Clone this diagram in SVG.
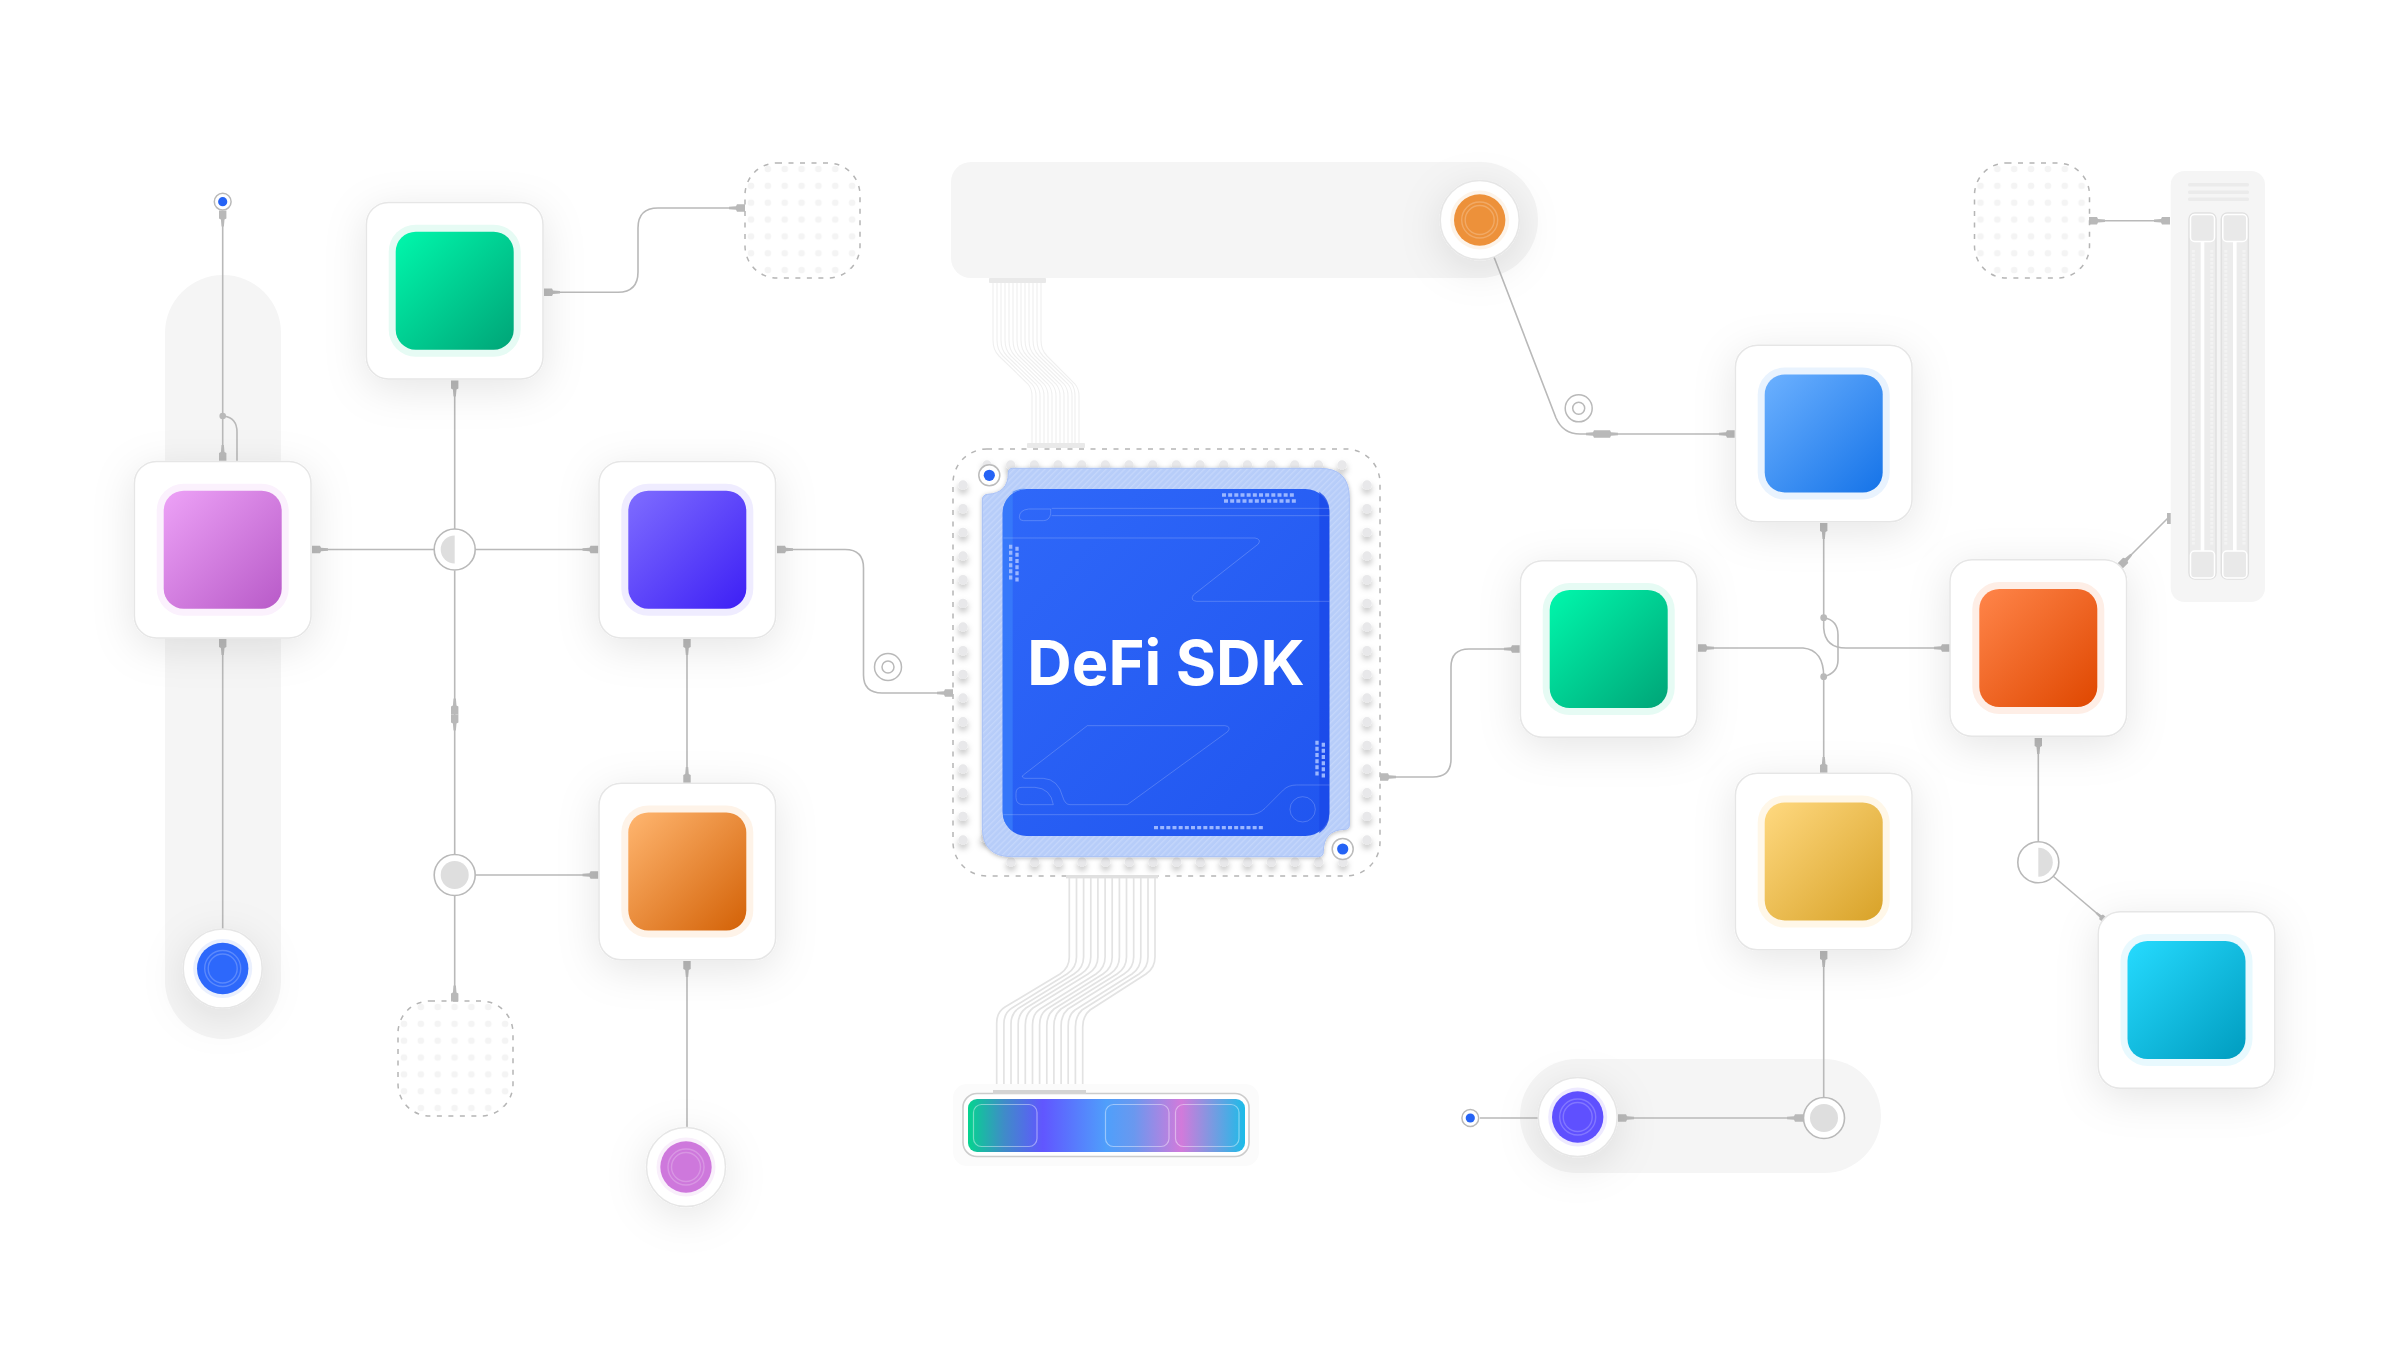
<svg xmlns="http://www.w3.org/2000/svg" width="2400" height="1350" viewBox="0 0 2400 1350">
<style>
.bg{fill:#fff}
.pill{fill:#f5f5f5}
.card{fill:#fff;stroke:#e6e6e6;stroke-width:1.5;filter:url(#sh)}
.halo{rx:27px}
.face{rx:20px}
.w{fill:none;stroke:#b9b9b9;stroke-width:1.6}
.plug{fill:#b9b9b9}
.disc{fill:#fff;stroke:#e6e6e6;stroke-width:1.5;filter:url(#sh)}
.ring{fill:none;stroke:#fff;stroke-opacity:.22;stroke-width:1.4}
.joint{fill:#fff;stroke:#b9b9b9;stroke-width:1.6}
.fillg{fill:#dedede}
.dash{fill:none;stroke:#b5b5b5;stroke-width:1.5;stroke-dasharray:5 6.5}
.cir{fill:none;stroke:#fff;stroke-opacity:.2;stroke-width:3}
.tick{fill:none;stroke:#9ab6ff;stroke-width:10;stroke-dasharray:12 6.5}
.rib{fill:none;stroke:#e3e3e3;stroke-width:1.7}
.ribt{fill:none;stroke:#efefef;stroke-width:1.1}
.tab{fill:#e9e9e9}
.rail{fill:#ececec;stroke:#e0e0e0;stroke-width:1.5}
.slide{fill:#e9e9e9;stroke:#fff;stroke-width:1.5}
.title{font-family:Inter,"Liberation Sans",sans-serif;font-weight:700;font-size:61.5px;fill:#fff}
</style>
<defs>
<filter id="sh" x="-50%" y="-50%" width="200%" height="210%"><feDropShadow dx="0" dy="9" stdDeviation="21" flood-color="#000" flood-opacity=".1"/></filter>
<filter id="pinsh" x="-10%" y="-10%" width="120%" height="120%"><feDropShadow dx="0" dy="4" stdDeviation="3.2" flood-color="#000" flood-opacity=".26"/></filter>
<filter id="chipsh" x="-10%" y="-10%" width="120%" height="120%"><feDropShadow dx="0" dy="3" stdDeviation="6" flood-color="#000" flood-opacity=".28"/></filter>
<linearGradient id="gGreen" x1="0" y1="0" x2="1" y2="1"><stop offset="0" stop-color="#00f8ac"/><stop offset="1" stop-color="#00a477"/></linearGradient>
<linearGradient id="gPink" x1="0" y1="0" x2="1" y2="1"><stop offset="0" stop-color="#eda2f7"/><stop offset="1" stop-color="#b85ac8"/></linearGradient>
<linearGradient id="gViolet" x1="0" y1="0" x2="1" y2="1"><stop offset="0" stop-color="#7f6dff"/><stop offset="1" stop-color="#3d1ff5"/></linearGradient>
<linearGradient id="gOrange" x1="0" y1="0" x2="1" y2="1"><stop offset="0" stop-color="#ffb670"/><stop offset="1" stop-color="#d36106"/></linearGradient>
<linearGradient id="gBlue" x1="0" y1="0" x2="1" y2="1"><stop offset="0" stop-color="#6cb1ff"/><stop offset="1" stop-color="#1573e8"/></linearGradient>
<linearGradient id="gRed" x1="0" y1="0" x2="1" y2="1"><stop offset="0" stop-color="#ff854a"/><stop offset="1" stop-color="#df4700"/></linearGradient>
<linearGradient id="gYellow" x1="0" y1="0" x2="1" y2="1"><stop offset="0" stop-color="#ffd980"/><stop offset="1" stop-color="#d8a228"/></linearGradient>
<linearGradient id="gCyan" x1="0" y1="0" x2="1" y2="1"><stop offset="0" stop-color="#26dbff"/><stop offset="1" stop-color="#009cbf"/></linearGradient>
<linearGradient id="gChip" x1="0" y1="0" x2="1" y2="1"><stop offset="0" stop-color="#2f68f9"/><stop offset="1" stop-color="#2055ef"/></linearGradient>
<linearGradient id="gBar" x1="0" y1="0" x2="1" y2="0"><stop offset="0" stop-color="#05d48f"/><stop offset=".13" stop-color="#3f8cc8"/><stop offset=".27" stop-color="#6156ff"/><stop offset=".5" stop-color="#4f9ffb"/><stop offset=".6" stop-color="#6a98ef"/><stop offset=".77" stop-color="#d27adb"/><stop offset="1" stop-color="#1cbce8"/></linearGradient>
<pattern id="hatch" width="13" height="13" patternUnits="userSpaceOnUse" patternTransform="rotate(45)"><rect width="13" height="13" fill="#b7cdf9"/><rect width="4" height="13" fill="#c4d6fb"/></pattern>
<pattern id="dots" x="-10.85" y="-10.85" width="16.85" height="16.85" patternUnits="userSpaceOnUse"><circle cx="16.85" cy="16.85" r="3.3" fill="#f4f4f4"/><circle cx="0" cy="16.85" r="3.3" fill="#f4f4f4"/><circle cx="16.85" cy="0" r="3.3" fill="#f4f4f4"/><circle cx="0" cy="0" r="3.3" fill="#f4f4f4"/></pattern>
<polygon id="plug" class="plug" points="0,-3.7 8,-3.7 9,-1.8 16,-1.2 16,1.2 9,1.8 8,3.7 0,3.7"/>
<g id="dotbox"><rect width="115" height="115" rx="32" fill="url(#dots)"/><rect width="115" height="115" rx="32" class="dash"/></g>
</defs>
<rect class="bg" width="2400" height="1350"/>

<g id="backgrounds">
<rect class="pill" x="165" y="275" width="116" height="764" rx="58"/>
<path class="pill" d="M971 162H1480A58 58 0 0 1 1480 278H971A20 20 0 0 1 951 258V182A20 20 0 0 1 971 162Z"/>
<rect class="pill" x="1520" y="1059" width="361" height="114" rx="57"/>
</g>

<g id="ribbons">
<g class="ribt">
<path d="M993 283V340Q993 350 999 356L1028 384Q1032 389 1032 396V445"/>
<path d="M997 283V340Q997 350 1003 356L1032 384Q1036 389 1036 396V445"/>
<path d="M1001 283V340Q1001 350 1007 356L1036 384Q1040 389 1040 396V445"/>
<path d="M1005 283V340Q1005 350 1011 356L1040 384Q1044 389 1044 396V445"/>
<path d="M1009 283V340Q1009 350 1015 356L1044 384Q1048 389 1048 396V445"/>
<path d="M1013 283V340Q1013 350 1019 356L1048 384Q1052 389 1052 396V445"/>
<path d="M1017 283V340Q1017 350 1023 356L1052 384Q1056 389 1056 396V445"/>
<path d="M1021 283V340Q1021 350 1027 356L1056 384Q1060 389 1060 396V445"/>
<path d="M1025 283V340Q1025 350 1031 356L1060 384Q1064 389 1064 396V445"/>
<path d="M1029 283V340Q1029 350 1035 356L1064 384Q1068 389 1068 396V445"/>
<path d="M1033 283V340Q1033 350 1039 356L1068 384Q1072 389 1072 396V445"/>
<path d="M1037 283V340Q1037 350 1043 356L1072 384Q1075 389 1075 396V445"/>
<path d="M1041 283V340Q1041 350 1047 356L1075 384Q1079 389 1079 396V445"/>
</g>
<rect class="tab" x="989" y="278" width="57" height="5" rx="1"/>
</g>

<g id="chip">
<rect x="953" y="449" width="427" height="427" rx="34" class="bg"/>
<g filter="url(#pinsh)" fill="none" stroke="#e8e8ea" stroke-width="9.4" stroke-linecap="round" stroke-dasharray="0 23.67">
<path d="M963 485V850"/>
<path d="M1367 485V850"/>
<path d="M987 465H1345"/>
<path d="M1011 862H1325"/>
<path d="M985 838H986M1343 862H1344"/>
</g>
<rect x="953" y="449" width="427" height="427" rx="34" class="dash"/>
<g transform="translate(930 430) scale(.33333)">
<path fill="url(#hatch)" stroke="#a9c1f6" stroke-width="3" filter="url(#chipsh)" d="M248 115H1170Q1258 115 1258 203V1185Q1258 1198 1245 1198Q1180 1200 1180 1265Q1180 1280 1165 1280H245Q157 1280 157 1192V210Q157 195 172 193Q235 190 235 128Q235 115 248 115Z"/>
<rect x="218" y="177" width="980" height="1041" rx="72" fill="url(#gChip)"/>
<path d="M290 177A72 72 0 0 0 218 249V1146A72 72 0 0 0 248 1204V185A72 72 0 0 1 290 177Z" fill="#3a80fb" opacity=".7"/>
<path d="M1168 185V1210A72 72 0 0 0 1198 1146V249A72 72 0 0 0 1168 185Z" fill="#1a48e8" opacity=".8"/>
<g class="cir">
<path d="M365 235H1198M365 257H1198"/>
<path d="M362 237H296Q268 240 268 262Q268 272 280 272H340Q358 272 362 252Z"/>
<path d="M220 324H975Q995 328 985 342L790 495Q780 512 800 514H1198"/>
<path d="M280 1035L472 887H885Q905 890 893 905L592 1124H420Q405 1124 398 1100Q385 1048 340 1045H285Q272 1042 280 1035Z"/>
<path d="M258 1090Q258 1072 276 1072H315Q362 1075 370 1124H280Q258 1124 258 1102Z"/>
<path d="M220 1154H960Q985 1154 1005 1135L1060 1080Q1075 1065 1100 1065H1198"/>
<circle cx="1118" cy="1138" r="38"/>
</g>
<path class="tick" d="M876 195H1094M882 213H1100M672 1193H1000"/>
<path class="tick" d="M242 344V452M261 350V458M1161 932V1040M1180 938V1046"/>
</g>
<text class="title" x="1166" y="685" text-anchor="middle">DeFi SDK</text>
<g id="chip-hole-tl"><circle cx="989.3" cy="475.3" r="10.5" fill="#fff" stroke="#bbb" stroke-width="1.5"/><circle cx="989.3" cy="475.3" r="5.6" fill="#2563f5"/></g>
<g id="chip-hole-br"><circle cx="1342.7" cy="849" r="10.5" fill="#fff" stroke="#bbb" stroke-width="1.5"/><circle cx="1342.7" cy="849" r="5.6" fill="#2563f5"/></g>
</g>
<rect class="tab" x="1027" y="443" width="58" height="5" rx="1"/>

<g id="bottom-ribbon">
<rect x="1066" y="875" width="92" height="3.4" fill="#e0e0e0"/>
<g class="rib">
<path d="M1069.3 878V957Q1069.3 968 1060 974L1005 1007Q996.7 1012 996.7 1023V1090"/>
<path d="M1076.5 878V957Q1076.5 968 1067 974L1012 1008Q1003.9 1013 1003.9 1024V1090"/>
<path d="M1083.6 878V957Q1083.6 968 1074 974L1019 1008Q1011 1013 1011 1024V1090"/>
<path d="M1090.8 878V957Q1090.8 968 1081 974L1026 1008Q1018.2 1014 1018.2 1024V1090"/>
<path d="M1097.9 878V957Q1097.9 968 1088 974L1033 1008Q1025.3 1014 1025.3 1025V1090"/>
<path d="M1105.1 878V957Q1105.1 968 1096 974L1040 1009Q1032.5 1014 1032.5 1025V1090"/>
<path d="M1112.2 878V957Q1112.2 968 1103 974L1047 1009Q1039.6 1014 1039.6 1025V1090"/>
<path d="M1119.4 878V957Q1119.4 968 1110 974L1054 1009Q1046.8 1015 1046.8 1026V1090"/>
<path d="M1126.5 878V957Q1126.5 968 1117 974L1061 1009Q1053.9 1015 1053.9 1026V1090"/>
<path d="M1133.7 878V957Q1133.7 968 1124 974L1068 1009Q1061.1 1015 1061.1 1026V1090"/>
<path d="M1140.8 878V957Q1140.8 968 1132 974L1075 1010Q1068.2 1015 1068.2 1026V1090"/>
<path d="M1148 878V957Q1148 968 1139 974L1082 1010Q1075.4 1016 1075.4 1027V1090"/>
<path d="M1155 878V957Q1155 968 1146 974L1090 1010Q1082.7 1016 1082.7 1027V1090"/>
</g>
<rect x="953" y="1084" width="306" height="82" rx="14" fill="#fbfbfb"/>
<rect x="963" y="1093.5" width="286" height="63" rx="14" fill="#fff" stroke="#ccc" stroke-width="1.6"/>
<rect x="993" y="1090" width="93" height="4" fill="#d4d4d4"/>
<rect x="968" y="1099" width="277" height="53" rx="9" fill="url(#gBar)"/>
<g fill="none" stroke="#fff" stroke-opacity=".42" stroke-width="1.2">
<rect x="973.5" y="1104.5" width="63.5" height="42" rx="8"/>
<rect x="1105.5" y="1104.5" width="63.5" height="42" rx="8"/>
<rect x="1175.5" y="1104.5" width="63.5" height="42" rx="8"/>
</g>
</g>

<g id="connectors">
<path class="w" d="M222.7 226V461"/>
<path class="w" d="M222.7 416H224Q237 418 237 432V461"/>
<circle cx="222.7" cy="416" r="3.3" class="plug"/>
<path class="w" d="M222.7 650V930"/>
<path class="w" d="M322 549.5H434M475.5 549.5H585"/>
<path class="w" d="M454.7 390V529M454.7 570.5V854M454.7 895.5V990"/>
<path class="w" d="M475.5 875H588"/>
<path class="w" d="M555 292.3H618Q638 292 638 272V228Q638 208 658 208H735"/>
<path class="w" d="M787 549.5H845Q863.5 549.5 863.5 568V675Q863.5 693 882 693H942"/>
<path class="w" d="M687 650V775M687 970V1129"/>
<path class="w" d="M1390 777H1433Q1451 777 1451 759V667Q1451 649 1469 649H1510"/>
<path class="w" d="M1708 648H1803Q1823.7 650 1823.7 676.7"/>
<path class="w" d="M1823.7 533V628Q1825 648 1846 648H1940"/>
<path class="w" d="M1823.7 617.7Q1838 620 1838 635V660Q1838 673 1823.7 676.7"/>
<circle cx="1823.7" cy="617.7" r="3.4" class="plug"/>
<circle cx="1823.7" cy="676.7" r="3.4" class="plug"/>
<path class="w" d="M1823.7 676.7V765M1823.7 961V1097"/>
<path class="w" d="M2038.3 748V841.5"/>
<path class="w" d="M2053 876L2100 916"/>
<path class="w" d="M1494 257L1556 418Q1563 434 1580 434H1725"/>
<path class="w" d="M2099 220.7H2160"/>
<path class="w" d="M2125 561L2168 518"/>
<path class="w" d="M1480 1118H1538M1628 1118H1795"/>
<circle cx="888" cy="667" r="13.5" fill="none" stroke="#b9b9b9" stroke-width="1.5"/><circle cx="888" cy="667" r="6" fill="none" stroke="#b9b9b9" stroke-width="1.5"/>
<circle cx="1578.7" cy="408.3" r="13.5" fill="none" stroke="#b9b9b9" stroke-width="1.5"/><circle cx="1578.7" cy="408.3" r="6" fill="none" stroke="#b9b9b9" stroke-width="1.5"/>
<use href="#plug" transform="translate(222.7 210.5) rotate(90)"/>
<use href="#plug" transform="translate(222.7 461) rotate(-90)"/>
<use href="#plug" transform="translate(222.7 639) rotate(90)"/>
<use href="#plug" transform="translate(312 549.5)"/>
<use href="#plug" transform="translate(598.5 549.5) rotate(180)"/>
<use href="#plug" transform="translate(454.7 380.5) rotate(90)"/>
<use href="#plug" transform="translate(544 292.3)"/>
<use href="#plug" transform="translate(745 208) rotate(180)"/>
<use href="#plug" transform="translate(454.7 1001.5) rotate(-90)"/>
<use href="#plug" transform="translate(598.5 875) rotate(180)"/>
<use href="#plug" transform="translate(777 549.5)"/>
<use href="#plug" transform="translate(687 639) rotate(90)"/>
<use href="#plug" transform="translate(687 783) rotate(-90)"/>
<use href="#plug" transform="translate(687 961) rotate(90)"/>
<use href="#plug" transform="translate(953 693) rotate(180)"/>
<use href="#plug" transform="translate(1380 777)"/>
<use href="#plug" transform="translate(1520 649) rotate(180)"/>
<use href="#plug" transform="translate(1698 648)"/>
<use href="#plug" transform="translate(1950 648) rotate(180)"/>
<use href="#plug" transform="translate(1823.7 523) rotate(90)"/>
<use href="#plug" transform="translate(1823.7 773) rotate(-90)"/>
<use href="#plug" transform="translate(1823.7 951) rotate(90)"/>
<use href="#plug" transform="translate(2038.3 738) rotate(90)"/>
<use href="#plug" transform="translate(1735 434) rotate(180)"/>
<use href="#plug" transform="translate(1602 434)"/>
<use href="#plug" transform="translate(1602 434) rotate(180)"/>
<use href="#plug" transform="translate(454.7 714.5) rotate(90)"/>
<use href="#plug" transform="translate(454.7 714.5) rotate(-90)"/>
<use href="#plug" transform="translate(2089 220.7)"/>
<use href="#plug" transform="translate(2170 220.7) rotate(180)"/>
<use href="#plug" transform="translate(1618 1118)"/>
<use href="#plug" transform="translate(1803 1118) rotate(180)"/>
<use href="#plug" transform="translate(2120 566) rotate(-45)"/>
<use href="#plug" transform="translate(2106 921) rotate(-140) scale(.8)"/>
<rect class="plug" x="2167" y="513" width="4" height="11"/>
</g>

<g id="placeholder-1" transform="translate(398 1001)"><use href="#dotbox"/></g>
<g id="placeholder-2" transform="translate(745 163)"><use href="#dotbox"/></g>
<g id="placeholder-3" transform="translate(1974.5 163)"><use href="#dotbox"/></g>

<g id="memory-rail">
<rect class="pill" x="2170.7" y="171" width="94.3" height="431" rx="14"/>
<g fill="#ebebeb"><rect x="2188" y="183" width="61" height="3.5" rx="1.5"/><rect x="2188" y="190.5" width="61" height="3.5" rx="1.5"/><rect x="2188" y="197.5" width="61" height="3.5" rx="1.5"/></g>
<rect class="rail" x="2189" y="213" width="27" height="366" rx="6"/>
<rect class="rail" x="2221.3" y="213" width="27" height="366" rx="6"/>
<rect x="2200.7" y="241" width="3.6" height="310" fill="#fff"/>
<rect x="2233" y="241" width="3.6" height="310" fill="#fff"/>
<path d="M2193.4 250V545M2211.8 250V545M2225.8 250V545M2244 250V545" fill="none" stroke="#f3f3f3" stroke-width="3" stroke-dasharray="2.5 1.5"/>
<rect class="slide" x="2190.5" y="214.5" width="24" height="27" rx="4"/><rect class="slide" x="2222.8" y="214.5" width="24" height="27" rx="4"/>
<rect class="slide" x="2190.5" y="551" width="24" height="27" rx="4"/><rect class="slide" x="2222.8" y="551" width="24" height="27" rx="4"/>
</g>

<g id="node-green-top" transform="translate(454.7 290.7)"><rect class="card" x="-88.3" y="-88.3" width="176.6" height="176.6" rx="22"/><rect class="halo" x="-66" y="-66" width="132" height="132" fill="#e6fbf4"/><rect class="face" x="-59" y="-59" width="118" height="118" fill="url(#gGreen)"/></g>
<g id="node-pink" transform="translate(222.7 549.7)"><rect class="card" x="-88.3" y="-88.3" width="176.6" height="176.6" rx="22"/><rect class="halo" x="-66" y="-66" width="132" height="132" fill="#fbf1fd"/><rect class="face" x="-59" y="-59" width="118" height="118" fill="url(#gPink)"/></g>
<g id="node-violet" transform="translate(687.3 549.7)"><rect class="card" x="-88.3" y="-88.3" width="176.6" height="176.6" rx="22"/><rect class="halo" x="-66" y="-66" width="132" height="132" fill="#efecff"/><rect class="face" x="-59" y="-59" width="118" height="118" fill="url(#gViolet)"/></g>
<g id="node-orange" transform="translate(687.3 871.5)"><rect class="card" x="-88.3" y="-88.3" width="176.6" height="176.6" rx="22"/><rect class="halo" x="-66" y="-66" width="132" height="132" fill="#fef3e8"/><rect class="face" x="-59" y="-59" width="118" height="118" fill="url(#gOrange)"/></g>
<g id="node-blue" transform="translate(1823.7 433.5)"><rect class="card" x="-88.3" y="-88.3" width="176.6" height="176.6" rx="22"/><rect class="halo" x="-66" y="-66" width="132" height="132" fill="#e9f3fe"/><rect class="face" x="-59" y="-59" width="118" height="118" fill="url(#gBlue)"/></g>
<g id="node-green-right" transform="translate(1608.7 649)"><rect class="card" x="-88.3" y="-88.3" width="176.6" height="176.6" rx="22"/><rect class="halo" x="-66" y="-66" width="132" height="132" fill="#e6fbf4"/><rect class="face" x="-59" y="-59" width="118" height="118" fill="url(#gGreen)"/></g>
<g id="node-red" transform="translate(2038.3 648)"><rect class="card" x="-88.3" y="-88.3" width="176.6" height="176.6" rx="22"/><rect class="halo" x="-66" y="-66" width="132" height="132" fill="#feeee6"/><rect class="face" x="-59" y="-59" width="118" height="118" fill="url(#gRed)"/></g>
<g id="node-yellow" transform="translate(1823.7 861.5)"><rect class="card" x="-88.3" y="-88.3" width="176.6" height="176.6" rx="22"/><rect class="halo" x="-66" y="-66" width="132" height="132" fill="#fff7e8"/><rect class="face" x="-59" y="-59" width="118" height="118" fill="url(#gYellow)"/></g>
<g id="node-cyan" transform="translate(2186.5 1000)"><rect class="card" x="-88.3" y="-88.3" width="176.6" height="176.6" rx="22"/><rect class="halo" x="-66" y="-66" width="132" height="132" fill="#e8f9fe"/><rect class="face" x="-59" y="-59" width="118" height="118" fill="url(#gCyan)"/></g>

<g id="disc-blue" transform="translate(222.7 968.5)"><circle class="disc" r="39.5"/><circle r="29.5" fill="#eaf0fe"/><circle r="25.7" fill="#2d68fb"/><circle class="ring" r="18"/><circle class="ring" r="14.5"/></g>
<g id="disc-pink" transform="translate(686 1167)"><circle class="disc" r="39.5"/><circle r="29.5" fill="#f9effb"/><circle r="25.7" fill="#ce78dc"/><circle class="ring" r="18"/><circle class="ring" r="14.5"/></g>
<g id="disc-orange" transform="translate(1479.7 220)"><circle class="disc" r="39.5"/><circle r="29.5" fill="#fdf4ea"/><circle r="25.7" fill="#ed913a"/><circle class="ring" r="18"/><circle class="ring" r="14.5"/></g>
<g id="disc-violet" transform="translate(1577.7 1117)"><circle class="disc" r="39.5"/><circle r="29.5" fill="#eeeaff"/><circle r="25.7" fill="#5f50ff"/><circle class="ring" r="18"/><circle class="ring" r="14.5"/></g>

<g id="joint-half-left" transform="translate(454.7 549.5)"><circle class="joint" r="20.5"/><path class="fillg" d="M0-14A14 14 0 0 0 0 14Z"/></g>
<g id="joint-half-right" transform="translate(2038.3 862.3)"><circle class="joint" r="20.5"/><path class="fillg" d="M0-14.5A14.5 14.5 0 0 1 0 14.5Z"/></g>
<g id="joint-full-left" transform="translate(454.7 875)"><circle class="joint" r="20.5"/><circle class="fillg" r="14"/></g>
<g id="joint-full-right" transform="translate(1824 1118)"><circle class="joint" r="20.5"/><circle class="fillg" r="14"/></g>

<g id="dot-top" transform="translate(222.7 201.7)"><circle r="8.4" fill="#fff" stroke="#b9b9b9" stroke-width="1.5"/><circle r="4.6" fill="#2563f5"/></g>
<g id="dot-bottom" transform="translate(1470.3 1118)"><circle r="8.4" fill="#fff" stroke="#b9b9b9" stroke-width="1.5"/><circle r="4.6" fill="#2563f5"/></g>
</svg>
